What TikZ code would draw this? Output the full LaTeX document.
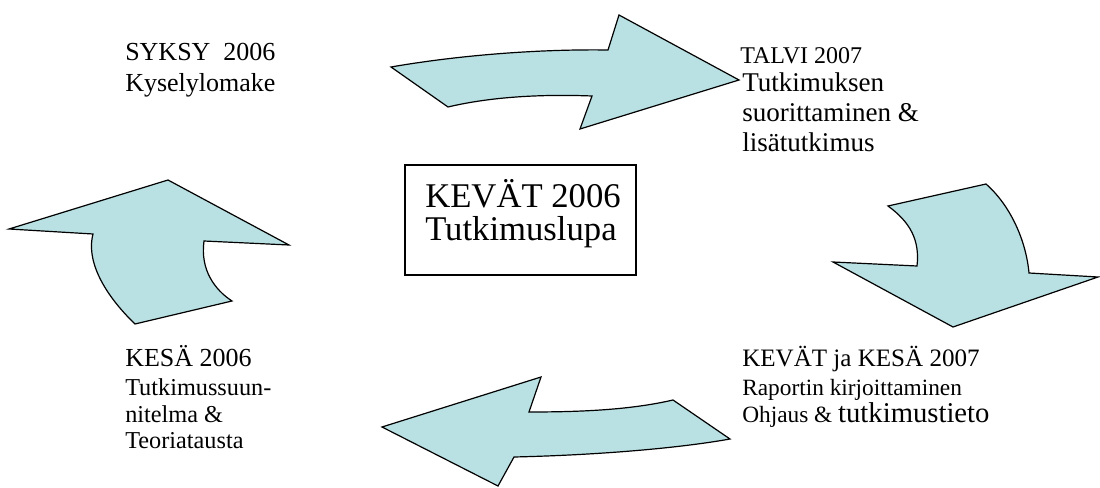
\documentclass[tikz,border=0pt]{standalone}
\usepackage{fontspec}
\setmainfont{Liberation Serif}
\definecolor{arrowfill}{RGB}{185,224,227}
\begin{document}
\begin{tikzpicture}[x=0.75pt,y=-0.75pt,
  bigarrow/.style={fill=arrowfill,draw=black,line width=0.9pt,line join=miter},
  lbl/.style={anchor=base west,inner sep=0pt,font=\fontsize{19.5}{22}\selectfont},
  sml/.style={anchor=base west,inner sep=0pt,font=\fontsize{17.5}{20}\selectfont},
  ctr/.style={anchor=base west,inner sep=0pt,font=\fontsize{26}{30}\selectfont},
  framebox/.style={draw=black,line width=0.9pt}]
\useasboundingbox (0,0) rectangle (1100,488);
% arrows
\path[bigarrow] (391,67) .. controls (460,55) and (540,49) .. (608,50) -- (619,15) -- (739,80) -- (580,129) -- (592,96) .. controls (540,94) and (490,97) .. (448,107) -- cycle;
\path[bigarrow] (888,206) .. controls (910,222) and (920,240) .. (917,266) -- (833,262) -- (953,327) -- (1098,277) -- (1029,273) .. controls (1026,240) and (1010,205) .. (986,184) -- cycle;
\path[bigarrow] (673,400) .. controls (630,410) and (580,412) .. (529,412) -- (541,377) -- (382,427) -- (498,486) -- (514,457) .. controls (600,455) and (680,448) .. (730,439) -- cycle;
\path[bigarrow] (168,180) -- (289,245) -- (204,241) .. controls (200,270) and (215,290) .. (232,301) -- (135,324) .. controls (110,300) and (85,265) .. (93,234) -- (9,229) -- cycle;
% centre box
\draw[framebox] (405,165) rectangle (636,275);
\node[ctr] (c1) at (425,208) {KEVÄT 2006};
\node[ctr] (c2) at (425,241) {Tutkimuslupa};
% top left
\node[lbl] (s1) at (125,61) {SYKSY\ \ 2006};
\node[lbl] (s2) at (125,92) {Kyselylomake};
% top right
\node[anchor=base west,inner sep=0pt,font=\fontsize{18}{22}\selectfont] (t1) at (740,64) {TALVI 2007};
\node[lbl,font=\fontsize{20.3}{24}\selectfont] (t2) at (742,92) {Tutkimuksen};
\node[lbl,font=\fontsize{20.3}{24}\selectfont] (t3) at (742,122) {suorittaminen \&};
\node[lbl,font=\fontsize{20.3}{24}\selectfont] (t4) at (742,152) {lisätutkimus};
% bottom left
\node[lbl] (k1) at (125,367) {KESÄ 2006};
\node[lbl,font=\fontsize{18.2}{22}\selectfont] (k2) at (125,395) {Tutkimussuun-};
\node[lbl,font=\fontsize{18.2}{22}\selectfont] (k3) at (125,422) {nitelma \&};
\node[lbl,font=\fontsize{18.2}{22}\selectfont] (k4) at (125,448) {Teoriatausta};
% bottom right
\node[lbl,font=\fontsize{18.8}{22}\selectfont] (r1) at (742,367) {KEVÄT ja KESÄ 2007};
\node[sml] (r2) at (742,395) {Raportin kirjoittaminen};
\node[sml] (r3) at (742,422) {Ohjaus \& {\fontsize{21.5}{24}\selectfont tutkimustieto}};
\end{tikzpicture}
\end{document}
